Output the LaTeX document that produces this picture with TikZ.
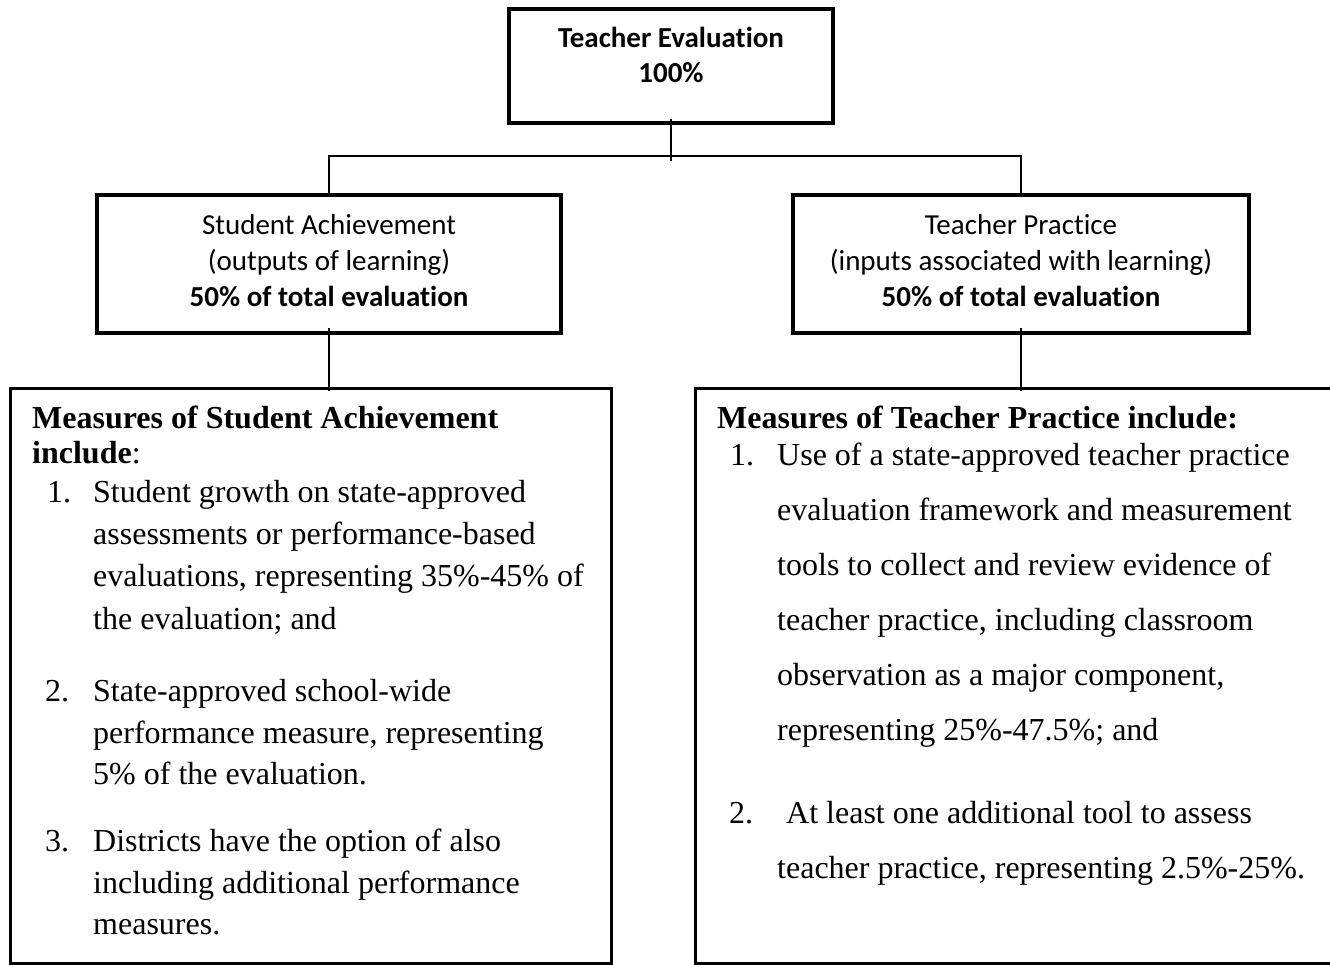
\documentclass[tikz,border=0pt]{standalone}
\usepackage{fontspec}
\setmainfont{Liberation Serif}
\newfontfamily\calib[Ligatures=NoCommon]{Carlito}
\begin{document}
\begin{tikzpicture}[x=1pt,y=-1pt,
  box/.style={draw, line width=3.5pt, inner sep=0pt},
  listbox/.style={draw, line width=3pt, inner sep=0pt},
  link/.style={line width=2pt},
  cal/.style={inner sep=0pt, anchor=base, font=\calib\fontsize{29}{35}\selectfont},
  calb/.style={inner sep=0pt, anchor=base, font=\calib\bfseries\fontsize{29}{35}\selectfont},
  tm/.style={inner sep=0pt, anchor=base west, font=\fontsize{32}{40}\selectfont},
]
\useasboundingbox (0,0) rectangle (1330,964);

% boxes
\node[box, minimum width=324, minimum height=114] (top) at (671,66) {};
\node[box, minimum width=464, minimum height=138] (midL) at (329,264) {};
\node[box, minimum width=456, minimum height=138] (midR) at (1021,264) {};
\node[listbox, minimum width=601, minimum height=575] (listL) at (311,675.5) {};
\node[listbox, minimum width=650, minimum height=575] (listR) at (1020.5,675.5) {};

% connectors
\coordinate (bus) at (671,156);
\draw[link, shorten <=-6pt, shorten >=-5pt] (top.south) -- (bus);
\draw[link] (midL.north) |- (bus) -| (midR.north);
\draw[link, shorten <=-7pt, shorten >=-4pt] (midL.south) -- (midL.south |- listL.north);
\draw[link, shorten <=-7pt, shorten >=-4pt] (midR.south) -- (midR.south |- listR.north);

% top box text
\node[calb] (topA) at (671,47) {Teacher Evaluation};
\node[calb] (topB) at (671,82) {100\%};

% middle boxes text
\node[cal]  (mlA) at (329,234) {Student Achievement};
\node[cal]  (mlB) at (329,270) {(outputs of learning)};
\node[calb] (mlC) at (329,306) {50\% of total evaluation};
\node[cal]  (mrA) at (1021,234) {Teacher Practice};
\node[cal]  (mrB) at (1021,270) {(inputs associated with learning)};
\node[calb] (mrC) at (1021,306) {50\% of total evaluation};

% student achievement measures
\node[tm] (lh1) at (32,428) {\textbf{Measures of Student Achievement}};
\node[tm] (lh2) at (32,463) {\textbf{include}:};
\node[tm] (ln1) at (47,502) {1.};
\node[tm] (l11) at (93,502) {Student growth on state-approved};
\node[tm] (l12) at (93,544) {assessments or performance-based};
\node[tm] (l13) at (93,586) {evaluations, representing 35\%-45\% of};
\node[tm] (l14) at (93,629) {the evaluation; and};
\node[tm] (ln2) at (45,701) {2.};
\node[tm] (l21) at (93,701) {State-approved school-wide};
\node[tm] (l22) at (93,743) {performance measure, representing};
\node[tm] (l23) at (93,784) {5\% of the evaluation.};
\node[tm] (ln3) at (45,851) {3.};
\node[tm] (l31) at (93,851) {Districts have the option of also};
\node[tm] (l32) at (93,893) {including additional performance};
\node[tm] (l33) at (93,934) {measures.};

% teacher practice measures
\node[tm] (rh1) at (717,428) {\textbf{Measures of Teacher Practice include:}};
\node[tm] (rn1) at (730,465) {1.};
\node[tm] (r11) at (777,465) {Use of a state-approved teacher practice};
\node[tm] (r12) at (777,520) {evaluation framework and measurement};
\node[tm] (r13) at (777,575) {tools to collect and review evidence of};
\node[tm] (r14) at (777,630) {teacher practice, including classroom};
\node[tm] (r15) at (777,685) {observation as a major component,};
\node[tm] (r16) at (777,740) {representing 25\%-47.5\%; and};
\node[tm] (rn2) at (729,823) {2.};
\node[tm] (r21) at (786,823) {At least one additional tool to assess};
\node[tm] (r22) at (777,878) {teacher practice, representing 2.5\%-25\%.};
\end{tikzpicture}
\end{document}
